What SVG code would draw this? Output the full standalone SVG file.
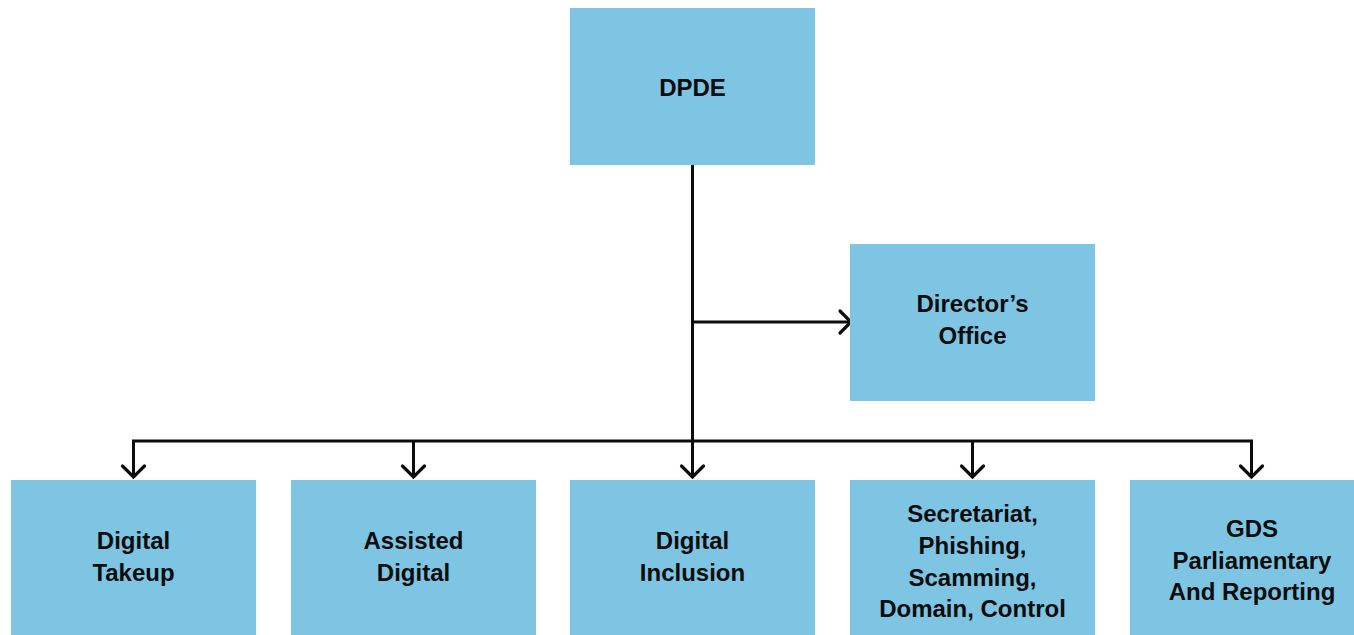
<svg xmlns="http://www.w3.org/2000/svg" width="1354" height="635" viewBox="0 0 1354 635">
  <style>
    .box { fill: #7ec4e3; }
    .label { font-family: "Liberation Sans", Arial, sans-serif; font-weight: bold; font-size: 24px; fill: #0b0c0c; text-anchor: middle; }
    .wire { fill: none; stroke: #0b0c0c; stroke-width: 3; }
    .head { fill: none; stroke: #0b0c0c; stroke-width: 3.2; stroke-linecap: round; stroke-linejoin: miter; }
  </style>

  <!-- connectors -->
  <g id="connectors">
    <path class="wire" d="M692.5 165 V441"/>
    <path class="wire" d="M692.5 322 H851"/>
    <path class="head" d="M840 311 L851 322 L840 333"/>
    <path class="wire" d="M133.5 478 V441 H1251.5 V478"/>
    <path class="wire" d="M413.5 441 V478"/>
    <path class="wire" d="M692.5 441 V478"/>
    <path class="wire" d="M972.5 441 V478"/>
    <path class="head" d="M122.5 466 L133.5 477 L144.5 466"/>
    <path class="head" d="M402.5 466 L413.5 477 L424.5 466"/>
    <path class="head" d="M681.5 466 L692.5 477 L703.5 466"/>
    <path class="head" d="M961.5 466 L972.5 477 L983.5 466"/>
    <path class="head" d="M1240.5 466 L1251.5 477 L1262.5 466"/>
  </g>

  <g id="dpde">
    <rect class="box" x="570" y="8" width="245" height="157"/>
    <text class="label" x="692.5" y="96">DPDE</text>
  </g>

  <g id="directors-office">
    <rect class="box" x="850" y="244" width="245" height="157"/>
    <text class="label" x="972.5" y="312">Director’s</text>
    <text class="label" x="972.5" y="344">Office</text>
  </g>

  <g id="digital-takeup">
    <rect class="box" x="11" y="480" width="245" height="157"/>
    <text class="label" x="133.5" y="549">Digital</text>
    <text class="label" x="133.5" y="581">Takeup</text>
  </g>

  <g id="assisted-digital">
    <rect class="box" x="291" y="480" width="245" height="157"/>
    <text class="label" x="413.5" y="549">Assisted</text>
    <text class="label" x="413.5" y="581">Digital</text>
  </g>

  <g id="digital-inclusion">
    <rect class="box" x="570" y="480" width="245" height="157"/>
    <text class="label" x="692.5" y="549">Digital</text>
    <text class="label" x="692.5" y="581">Inclusion</text>
  </g>

  <g id="secretariat">
    <rect class="box" x="850" y="480" width="245" height="157"/>
    <text class="label" x="972.5" y="522">Secretariat,</text>
    <text class="label" x="972.5" y="554">Phishing,</text>
    <text class="label" x="972.5" y="586">Scamming,</text>
    <text class="label" x="972.5" y="617">Domain, Control</text>
  </g>

  <g id="gds-parliamentary">
    <rect class="box" x="1130" y="480" width="245" height="157"/>
    <text class="label" x="1252" y="537">GDS</text>
    <text class="label" x="1252" y="569">Parliamentary</text>
    <text class="label" x="1252" y="600">And Reporting</text>
  </g>
</svg>
